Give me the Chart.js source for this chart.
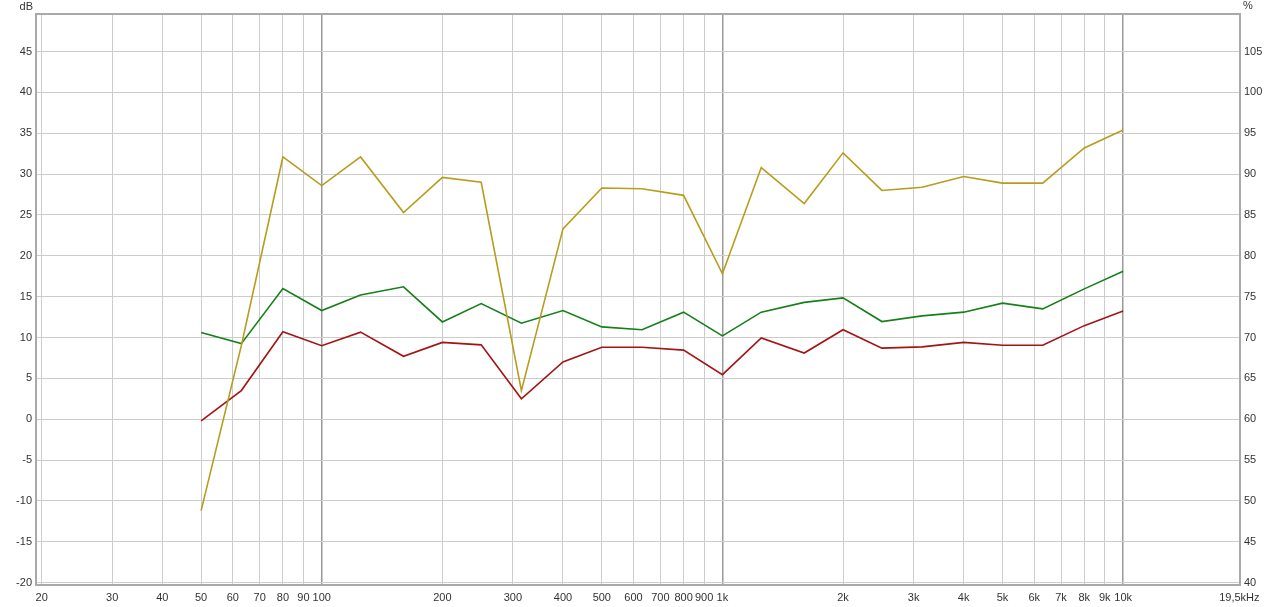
<!DOCTYPE html>
<html>
<head>
<meta charset="utf-8">
<script src="https://cdn.jsdelivr.net/npm/chart.js@4.4.1/dist/chart.umd.min.js"></script>
<style>
  html, body { margin: 0; padding: 0; background: #fff; }
  #wrap { width: 1280px; height: 607px; }
</style>
</head>
<body>
<div id="wrap"><canvas id="chart" width="1280" height="607"></canvas></div>
<script>
// 1/3 octave bands
const freqs = [50, 63, 80, 100, 125, 160, 200, 250, 315, 400, 500, 630, 800,
  1000, 1250, 1600, 2000, 2500, 3150, 4000, 5000, 6300, 8000, 10000];

const yellowDb = [-11.2, 9.0, 32.1, 28.6, 32.1, 25.3, 29.6, 29.0, 3.5, 23.3, 28.3, 28.2, 27.4,
  17.8, 30.8, 26.4, 32.6, 28.0, 28.4, 29.7, 28.9, 28.9, 33.2, 35.4];
const greenDb = [10.6, 9.25, 16.0, 13.3, 15.2, 16.2, 11.9, 14.15, 11.75, 13.3, 11.3, 10.95, 13.1,
  10.2, 13.1, 14.3, 14.85, 11.95, 12.65, 13.1, 14.2, 13.5, 15.95, 18.1];
const redDb = [-0.2, 3.5, 10.7, 9.0, 10.65, 7.7, 9.4, 9.1, 2.5, 7.0, 8.8, 8.8, 8.45,
  5.45, 9.95, 8.1, 10.95, 8.7, 8.85, 9.4, 9.05, 9.05, 11.45, 13.25];

const xTickValues = [20, 30, 40, 50, 60, 70, 80, 90, 100, 200, 300, 400, 500, 600, 700, 800, 900,
  1000, 2000, 3000, 4000, 5000, 6000, 7000, 8000, 9000, 10000, 19500];
const xTickLabels = ["20", "30", "40", "50", "60", "70", "80", "90", "100", "200", "300", "400",
  "500", "600", "700", "800", "900", "1k", "2k", "3k", "4k", "5k", "6k", "7k", "8k", "9k", "10k", "19,5kHz"];
const decadeTicks = [100, 1000, 10000];

const dbTicks = [-20, -15, -10, -5, 0, 5, 10, 15, 20, 25, 30, 35, 40, 45];
const pctTicks = [40, 45, 50, 55, 60, 65, 70, 75, 80, 85, 90, 95, 100, 105];

const toPoints = (vals) => vals.map((v, i) => ({ x: freqs[i], y: v }));

const tickFont = { family: "'Liberation Sans', Arial, sans-serif", size: 11 };

// frame + unit labels
const framePlugin = {
  id: "frame",
  afterDraw(chart) {
    const { ctx, chartArea: a } = chart;
    ctx.save();
    ctx.strokeStyle = "#a9a9a9";
    ctx.lineWidth = 2;
    ctx.strokeRect(a.left, a.top, a.right - a.left, a.bottom - a.top);
    ctx.fillStyle = "#333";
    ctx.font = "11px 'Liberation Sans', Arial, sans-serif";
    ctx.textBaseline = "middle";
    ctx.textAlign = "right";
    ctx.fillText("dB", a.left - 3, 7);
    ctx.textAlign = "left";
    ctx.fillText("%", a.right + 3, 6);
    ctx.restore();
  },
};

new Chart(document.getElementById("chart").getContext("2d"), {
  type: "line",
  data: {
    datasets: [
      {
        label: "yellow",
        data: toPoints(yellowDb),
        borderColor: "#b89c1c",
        borderWidth: 1.6,
        pointRadius: 0,
        tension: 0,
      },
      {
        label: "green",
        data: toPoints(greenDb),
        borderColor: "#15801a",
        borderWidth: 1.6,
        pointRadius: 0,
        tension: 0,
      },
      {
        label: "red",
        data: toPoints(redDb),
        borderColor: "#a31414",
        borderWidth: 1.6,
        pointRadius: 0,
        tension: 0,
      },
    ],
  },
  options: {
    responsive: false,
    animation: false,
    layout: { padding: { top: 14, left: 0, right: 0, bottom: 0 } },
    plugins: { legend: { display: false }, tooltip: { enabled: false } },
    scales: {
      x: {
        type: "logarithmic",
        min: 19.36,
        max: 19574,
        afterBuildTicks: (scale) => {
          scale.ticks = xTickValues.map((v) => ({ value: v }));
        },
        afterFit: (scale) => { scale.height = 22; },
        ticks: {
          autoSkip: false,
          maxRotation: 0,
          padding: 6,
          color: "#333",
          font: tickFont,
          callback: (v, i) => xTickLabels[i],
        },
        grid: {
          drawTicks: false,
          color: (ctx) => (decadeTicks.includes(ctx.tick && ctx.tick.value) ? "#9a9a9a" : "#cccccc"),
          lineWidth: (ctx) => (decadeTicks.includes(ctx.tick && ctx.tick.value) ? 1.5 : 1),
        },
        border: { display: false },
      },
      y: {
        position: "left",
        min: -20.3,
        max: 49.6,
        afterBuildTicks: (scale) => {
          scale.ticks = dbTicks.map((v) => ({ value: v }));
        },
        afterFit: (scale) => { scale.width = 36; },
        ticks: { padding: 4, color: "#333", font: tickFont },
        grid: { drawTicks: false, color: "#cccccc" },
        border: { display: false },
      },
      y2: {
        position: "right",
        min: 39.7,
        max: 109.6,
        afterBuildTicks: (scale) => {
          scale.ticks = pctTicks.map((v) => ({ value: v }));
        },
        afterFit: (scale) => { scale.width = 40; },
        ticks: { padding: 4, color: "#333", font: tickFont },
        grid: { drawOnChartArea: false, drawTicks: false },
        border: { display: false },
      },
    },
  },
  plugins: [framePlugin],
});
</script>
</body>
</html>
